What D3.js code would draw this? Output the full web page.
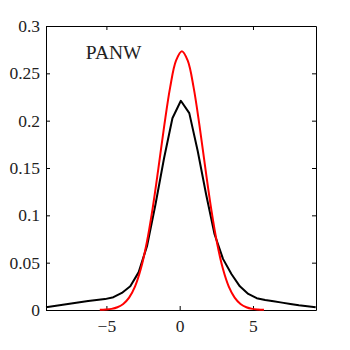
<!DOCTYPE html>
<meta charset="utf-8">
<style>
  body { margin: 0; background: #fff; }
  .line { fill: none; stroke-width: 2px; stroke-linejoin: round; }
  svg text { font-family: 'Liberation Serif', serif !important; }
</style>
<body>
<script src="https://d3js.org/d3.v7.min.js"></script>
<script>
  var empX = [-9.12, -8.545, -7.97, -7.395, -6.82, -6.245, -5.67, -5.095, -4.52, -3.945,
              -3.37, -2.795, -2.22, -1.645, -1.07, -0.495, 0.08, 0.655, 1.23, 1.805,
              2.38, 2.955, 3.53, 4.105, 4.68, 5.255, 5.83, 6.405, 6.98, 7.555,
              8.13, 8.705, 9.28];
  var empY = [0.0030, 0.0042, 0.0055, 0.0068, 0.0082, 0.0095, 0.0105, 0.0115, 0.0135, 0.018,
              0.025, 0.040, 0.068, 0.112, 0.160, 0.2025, 0.221, 0.208, 0.168, 0.122,
              0.080, 0.054, 0.038, 0.025, 0.017, 0.0125, 0.0105, 0.0092, 0.0078, 0.0064,
              0.0050, 0.0040, 0.0030];

  // fitted normal (red)
  var fitX = [-5.45, -5.05, -4.65, -4.25, -3.85, -3.45, -3.05, -2.65, -2.25, -1.85,
              -1.45, -1.05, -0.65, -0.25, 0.15, 0.55, 0.95, 1.35, 1.75, 2.15,
              2.55, 2.95, 3.35, 3.75, 4.15, 4.55, 4.95, 5.35, 5.75];
  var fitY = [0.0002, 0.0005, 0.0012, 0.0029, 0.0064, 0.0131, 0.0247, 0.0435, 0.0708, 0.1069,
              0.1499, 0.1950, 0.2352, 0.2633, 0.2733, 0.2633, 0.2352, 0.1950, 0.1499, 0.1069,
              0.0708, 0.0435, 0.0247, 0.0131, 0.0064, 0.0029, 0.0012, 0.0005, 0.0002];

  var xTicks = [-5, 0, 5];
  var yTicks = [0, 0.05, 0.1, 0.15, 0.2, 0.25, 0.3];
  var label = "PANW";

  var TXT = "font-family:'Liberation Serif', serif; font-size:17.5px";

  var margin = { top: 26, right: 34, bottom: 40, left: 46 };
  var W = 350, H = 350;
  var width = W - margin.left - margin.right,
      height = H - margin.top - margin.bottom;

  var x = d3.scaleLinear().domain([-9.12, 9.3]).range([0, width]);
  var y = d3.scaleLinear().domain([0, 0.3]).range([height, 0]);

  var svg = d3.select("body").append("svg")
    .attr("width", W)
    .attr("height", H);

  var g = svg.append("g")
    .attr("transform", "translate(" + margin.left + "," + margin.top + ")");

  var fmtY = function (d) { return d === 0 ? "0" : "" + (+d.toFixed(2)); };
  var fmtX = function (d) { return d < 0 ? "\u2212" + Math.abs(d) : "" + d; };

  // axes with inward ticks, mirrored on top and right
  g.append("g").attr("transform", "translate(0," + height + ")")
    .call(d3.axisBottom(x).tickValues(xTicks).tickSizeInner(-4).tickSizeOuter(0).tickPadding(10).tickFormat(fmtX));
  g.append("g")
    .call(d3.axisTop(x).tickValues(xTicks).tickSizeInner(-4).tickSizeOuter(0).tickFormat(""));
  g.append("g")
    .call(d3.axisLeft(y).tickValues(yTicks).tickSizeInner(-4).tickSizeOuter(0).tickPadding(6).tickFormat(fmtY));
  g.append("g").attr("transform", "translate(" + width + ",0)")
    .call(d3.axisRight(y).tickValues(yTicks).tickSizeInner(-4).tickSizeOuter(0).tickFormat(""));

  g.selectAll("g").attr("font-family", null).attr("font-size", null);
  svg.selectAll(".domain").attr("stroke", "#000");
  svg.selectAll(".tick line").attr("stroke", "#000");
  svg.selectAll(".tick text")
    .attr("style", TXT)
    .attr("fill", "#222");

  var lineEmp = d3.line()
    .x(function (d, i) { return x(empX[i]); })
    .y(function (d) { return y(d); });

  var lineFit = d3.line()
    .x(function (d, i) { return x(fitX[i]); })
    .y(function (d) { return y(d); })
    .curve(d3.curveCatmullRom);

  g.append("path")
    .attr("class", "line")
    .attr("stroke", "#000")
    .attr("d", lineEmp(empY));

  g.append("path")
    .attr("class", "line")
    .attr("stroke", "#ff0000")
    .attr("d", lineFit(fitY));

  g.append("text")
    .attr("x", x(-6.4))
    .attr("y", y(0.2655))
    .attr("style", "font-family:'Liberation Serif', serif; font-size:19.5px")
    .attr("fill", "#222")
    .text(label);
</script>
</body>
